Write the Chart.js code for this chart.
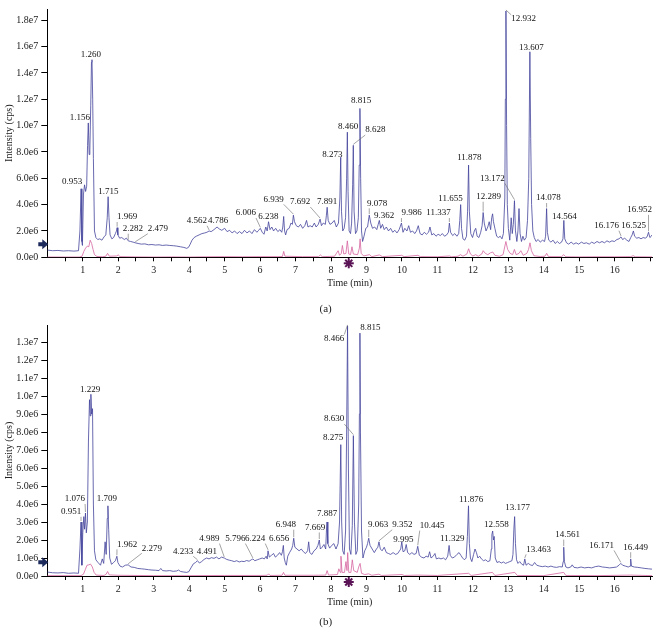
<!DOCTYPE html>
<html>
<head>
<meta charset="utf-8">
<script src="https://cdn.jsdelivr.net/npm/chart.js@4.4.1/dist/chart.umd.min.js"></script>
<style>
  body { margin: 0; background: #fff; width: 656px; height: 628px; overflow: hidden; position: relative; }
  canvas { position: absolute; left: 0; }
  #chartA { top: 0; }
  #chartB { top: 316px; }
</style>
</head>
<body>
<canvas id="chartA" width="656" height="316"></canvas>
<canvas id="chartB" width="656" height="312"></canvas>
<script>
// Chromatogram traces: [time (min), intensity (x1e6 cps)]
const blueA = [
  [0.00,0.55],[0.15,0.50],[0.30,0.52],[0.45,0.48],[0.60,0.50],[0.75,0.47],[0.88,0.50],[0.92,2.0],[0.953,5.2],[0.975,1.2],
  [0.99,0.9],[1.02,4.8],[1.05,5.5],[1.08,5.0],[1.11,5.4],[1.135,8.5],[1.156,10.2],[1.18,7.8],[1.20,8.2],[1.225,11.5],
  [1.245,14.8],[1.26,15.0],[1.28,12.0],[1.30,7.5],[1.33,2.0],[1.37,1.5],[1.42,1.35],[1.48,1.4],[1.54,1.3],[1.60,1.55],
  [1.65,1.7],[1.69,3.0],[1.715,4.6],[1.74,3.0],[1.77,1.7],[1.82,1.4],[1.87,1.5],[1.92,1.8],[1.95,2.0],[1.969,2.25],
  [1.99,1.7],[2.04,1.45],[2.10,1.5],[2.17,1.35],[2.23,1.45],[2.282,1.25],[2.35,1.2],[2.42,1.15],[2.479,1.1],[2.56,1.05],
  [2.65,1.0],[2.75,1.02],[2.85,0.95],[2.95,0.97],[3.05,0.93],[3.15,0.95],[3.25,0.90],[3.35,0.93],[3.45,0.90],[3.55,0.88],
  [3.65,0.85],[3.75,0.80],[3.85,0.75],[3.93,0.68],[3.98,0.75],[4.03,1.0],[4.08,1.3],[4.14,1.5],[4.20,1.6],[4.28,1.7],
  [4.36,1.8],[4.44,1.85],[4.50,1.9],[4.562,2.0],[4.62,1.95],[4.70,2.1],[4.786,2.3],[4.85,2.15],[4.92,2.05],[5.00,2.2],
  [5.07,1.95],[5.14,2.05],[5.21,1.85],[5.28,2.0],[5.35,1.8],[5.42,1.95],[5.49,1.8],[5.56,2.05],[5.63,1.85],[5.70,2.0],
  [5.77,1.8],[5.84,2.1],[5.91,1.9],[5.96,2.05],[6.006,2.2],[6.06,1.9],[6.11,1.75],[6.16,2.3],[6.20,2.0],[6.238,2.7],
  [6.28,2.1],[6.33,2.3],[6.38,2.0],[6.44,2.2],[6.50,1.95],[6.56,2.1],[6.61,1.9],[6.64,2.3],[6.665,3.1],[6.69,2.0],
  [6.72,1.7],[6.76,2.1],[6.82,2.2],[6.87,2.6],[6.91,2.5],[6.939,3.2],[6.97,2.7],[7.02,2.4],[7.08,2.3],[7.14,2.5],
  [7.20,2.2],[7.26,2.4],[7.31,2.8],[7.35,2.3],[7.41,2.4],[7.47,2.3],[7.53,2.6],[7.58,2.3],[7.64,2.5],[7.692,2.9],
  [7.73,2.4],[7.78,2.6],[7.84,2.5],[7.87,3.2],[7.891,3.8],[7.92,2.8],[7.97,2.5],[8.03,2.6],[8.09,2.8],[8.15,2.3],
  [8.21,2.6],[8.25,4.5],[8.273,7.6],[8.295,3.5],[8.33,2.0],[8.37,2.2],[8.41,3.0],[8.44,6.0],[8.460,9.5],[8.48,5.0],
  [8.51,2.0],[8.55,1.8],[8.58,2.6],[8.61,5.5],[8.628,8.5],[8.65,3.5],[8.69,1.8],[8.73,2.0],[8.77,3.0],[8.795,7.0],
  [8.815,11.3],[8.835,6.0],[8.86,2.0],[8.89,1.2],[8.93,1.6],[8.98,2.2],[9.03,2.3],[9.078,3.2],[9.12,2.6],[9.17,2.2],
  [9.23,2.3],[9.29,2.1],[9.33,2.5],[9.362,2.8],[9.40,2.2],[9.45,2.5],[9.50,2.1],[9.56,2.3],[9.62,2.0],[9.68,2.2],
  [9.74,1.9],[9.80,2.05],[9.86,1.85],[9.92,2.1],[9.986,2.6],[10.03,1.9],[10.08,2.2],[10.14,2.0],[10.19,2.4],[10.24,1.9],
  [10.30,2.0],[10.36,1.8],[10.41,2.0],[10.46,2.4],[10.51,1.8],[10.57,1.7],[10.63,1.9],[10.69,1.75],[10.75,1.9],[10.79,2.3],
  [10.84,1.7],[10.90,1.8],[10.96,1.6],[11.02,1.75],[11.08,1.65],[11.14,1.8],[11.20,1.6],[11.26,1.7],[11.31,1.9],[11.337,2.6],
  [11.37,1.9],[11.43,1.65],[11.49,1.8],[11.55,1.6],[11.60,1.8],[11.63,2.8],[11.655,4.0],[11.68,2.2],[11.72,1.4],[11.77,1.3],
  [11.82,1.6],[11.85,3.5],[11.878,7.0],[11.90,3.5],[11.94,1.8],[11.99,1.5],[12.04,2.0],[12.08,2.2],[12.12,1.6],[12.17,1.5],
  [12.22,1.9],[12.26,2.4],[12.289,3.4],[12.32,2.6],[12.37,2.0],[12.42,2.3],[12.46,2.7],[12.50,2.1],[12.53,3.0],[12.555,3.3],
  [12.58,2.7],[12.62,2.2],[12.67,1.6],[12.72,1.5],[12.77,1.6],[12.82,1.4],[12.86,1.8],[12.90,4.5],[12.915,12.0],[12.932,18.7],
  [12.95,10.0],[12.97,4.0],[13.00,2.2],[13.04,1.3],[13.08,3.0],[13.11,1.8],[13.14,2.5],[13.172,4.3],[13.20,2.0],[13.24,1.2],
  [13.27,2.0],[13.30,3.7],[13.33,1.8],[13.37,1.2],[13.41,1.6],[13.45,1.3],[13.50,1.5],[13.54,2.8],[13.575,6.0],[13.607,15.6],
  [13.63,9.0],[13.655,4.0],[13.69,2.0],[13.73,1.5],[13.78,1.2],[13.84,1.35],[13.90,1.15],[13.96,1.3],[14.02,1.2],[14.05,1.6],
  [14.078,3.7],[14.10,1.9],[14.14,1.3],[14.20,1.15],[14.26,1.3],[14.32,1.05],[14.38,1.2],[14.44,1.05],[14.50,1.15],[14.54,1.4],
  [14.564,2.8],[14.59,1.4],[14.64,1.1],[14.70,1.0],[14.77,1.15],[14.84,1.0],[14.91,1.1],[14.98,1.0],[15.06,1.15],[15.13,1.05],
  [15.20,1.1],[15.28,1.0],[15.35,1.15],[15.42,1.05],[15.50,1.2],[15.57,1.1],[15.64,1.2],[15.71,1.1],[15.78,1.25],[15.85,1.15],
  [15.92,1.25],[15.99,1.2],[16.06,1.35],[16.12,1.4],[16.176,1.55],[16.22,1.35],[16.28,1.45],[16.34,1.3],[16.40,1.2],[16.45,1.5],
  [16.49,1.7],[16.525,2.0],[16.56,1.6],[16.62,1.45],[16.68,1.5],[16.74,1.4],[16.80,1.5],[16.86,1.45],[16.91,1.55],[16.952,1.9],
  [16.99,1.5],[17.03,1.6],[17.05,1.7]
];

const pinkA = [
  [0.00,0.02],[0.90,0.02],[0.98,0.08],[1.03,0.45],[1.08,0.7],[1.13,0.85],[1.17,0.8],[1.21,1.3],[1.25,1.05],[1.29,0.6],
  [1.33,0.2],[1.40,0.06],[1.55,0.04],[1.65,0.08],[1.70,0.3],[1.75,0.08],[1.95,0.1],[2.00,0.18],[2.05,0.05],[2.5,0.03],
  [3.0,0.02],[3.5,0.03],[4.0,0.02],[4.5,0.04],[5.0,0.05],[5.5,0.04],[6.0,0.05],[6.5,0.05],[6.63,0.06],[6.665,0.45],
  [6.70,0.08],[7.2,0.05],[7.65,0.05],[7.70,0.18],[7.75,0.05],[8.10,0.08],[8.20,0.5],[8.24,0.15],[8.29,0.3],[8.32,0.9],
  [8.36,0.25],[8.42,0.3],[8.46,1.25],[8.50,0.25],[8.55,0.2],[8.59,0.8],[8.63,0.25],[8.75,0.2],[8.80,0.7],[8.82,1.4],
  [8.85,0.3],[8.92,0.1],[9.08,0.2],[9.15,0.05],[9.36,0.18],[9.45,0.05],[9.99,0.15],[10.06,0.05],[10.45,0.15],[10.52,0.05],
  [11.0,0.04],[11.34,0.1],[11.4,0.04],[11.58,0.08],[11.65,0.2],[11.72,0.08],[11.83,0.25],[11.88,0.65],[11.93,0.25],[12.0,0.1],
  [12.08,0.2],[12.15,0.08],[12.25,0.25],[12.29,0.5],[12.35,0.3],[12.42,0.2],[12.5,0.35],[12.56,0.4],[12.62,0.15],[12.75,0.08],
  [12.85,0.2],[12.93,1.2],[12.98,0.6],[13.05,0.3],[13.12,0.2],[13.17,0.6],[13.22,0.2],[13.3,0.3],[13.35,0.5],[13.42,0.15],
  [13.52,0.3],[13.57,0.6],[13.61,1.1],[13.65,0.5],[13.72,0.12],[13.9,0.06],[14.03,0.08],[14.08,0.3],[14.13,0.05],[14.5,0.05],
  [14.56,0.2],[14.62,0.04],[15.0,0.03],[15.5,0.04],[16.0,0.04],[16.45,0.05],[16.52,0.12],[16.58,0.04],[17.05,0.03]
];

const blueB = [
  [0.00,0.22],[0.15,0.18],[0.30,0.17],[0.45,0.19],[0.60,0.15],[0.75,0.17],[0.88,0.15],[0.92,1.5],[0.951,3.0],[0.975,0.6],
  [1.00,2.4],[1.03,3.3],[1.05,2.6],[1.076,3.5],[1.10,2.4],[1.13,3.0],[1.16,7.5],[1.19,9.8],[1.21,8.9],[1.229,10.1],
  [1.25,9.0],[1.275,9.3],[1.30,4.0],[1.33,1.4],[1.37,0.9],[1.43,0.75],[1.50,0.6],[1.55,0.95],[1.59,0.7],[1.63,1.9],
  [1.66,1.2],[1.69,3.2],[1.709,3.9],[1.73,2.6],[1.76,1.0],[1.81,0.65],[1.87,0.75],[1.92,0.85],[1.962,1.1],[1.99,0.75],
  [2.05,0.55],[2.12,0.5],[2.20,0.6],[2.279,0.62],[2.36,0.5],[2.45,0.48],[2.55,0.42],[2.65,0.4],[2.75,0.38],[2.85,0.35],
  [2.95,0.33],[3.05,0.32],[3.15,0.3],[3.20,0.42],[3.25,0.3],[3.35,0.28],[3.45,0.3],[3.55,0.26],[3.65,0.28],[3.70,0.33],
  [3.76,0.25],[3.85,0.22],[3.93,0.2],[3.99,0.24],[4.05,0.45],[4.12,0.68],[4.18,0.75],[4.233,0.85],[4.29,0.72],[4.35,0.8],
  [4.42,0.92],[4.491,1.0],[4.56,0.95],[4.63,1.02],[4.70,0.98],[4.77,1.05],[4.84,0.95],[4.91,1.05],[4.989,1.0],[5.06,0.92],
  [5.13,0.88],[5.20,0.85],[5.27,0.8],[5.34,0.85],[5.41,0.78],[5.48,0.82],[5.55,0.8],[5.62,0.86],[5.69,0.82],[5.75,0.9],
  [5.796,0.95],[5.85,0.85],[5.92,0.9],[5.99,0.95],[6.06,1.0],[6.12,0.95],[6.17,1.1],[6.20,0.95],[6.224,1.4],[6.26,1.05],
  [6.32,1.15],[6.38,1.25],[6.43,1.05],[6.49,1.15],[6.55,1.3],[6.60,1.15],[6.63,1.35],[6.656,1.7],[6.68,1.0],[6.71,0.75],
  [6.74,0.6],[6.78,1.1],[6.83,1.3],[6.89,1.5],[6.92,1.7],[6.948,2.1],[6.98,1.6],[7.04,1.5],[7.10,1.4],[7.16,1.5],
  [7.22,1.35],[7.28,1.25],[7.34,1.4],[7.37,1.9],[7.40,1.3],[7.46,1.2],[7.52,1.4],[7.58,1.5],[7.63,1.7],[7.669,2.0],
  [7.70,1.5],[7.75,1.6],[7.80,1.75],[7.85,1.5],[7.87,2.5],[7.887,3.0],[7.91,1.8],[7.96,1.55],[8.02,1.7],[8.08,1.8],
  [8.14,1.5],[8.20,1.8],[8.24,3.0],[8.275,7.3],[8.30,3.0],[8.33,1.4],[8.37,1.2],[8.41,2.5],[8.44,8.0],[8.466,13.9],
  [8.49,6.0],[8.52,1.5],[8.56,1.2],[8.60,2.8],[8.63,7.8],[8.66,3.0],[8.70,1.2],[8.74,1.4],[8.78,4.0],[8.80,9.0],
  [8.815,13.5],[8.83,8.0],[8.86,2.5],[8.90,1.0],[8.95,1.4],[9.00,1.6],[9.03,1.8],[9.063,2.1],[9.10,1.7],[9.16,1.5],
  [9.22,1.3],[9.28,1.5],[9.32,1.6],[9.352,1.9],[9.39,1.5],[9.44,1.4],[9.50,1.6],[9.56,1.3],[9.62,1.25],[9.68,1.2],
  [9.75,1.3],[9.82,1.2],[9.88,1.25],[9.93,1.4],[9.965,1.5],[9.995,1.9],[10.03,1.35],[10.08,1.4],[10.12,1.75],[10.16,1.3],
  [10.22,1.2],[10.28,1.3],[10.34,1.2],[10.40,1.25],[10.445,1.65],[10.49,1.15],[10.55,1.05],[10.62,1.0],[10.68,1.1],[10.74,1.05],
  [10.78,1.35],[10.82,1.0],[10.88,1.1],[10.93,1.25],[10.97,0.95],[11.04,1.0],[11.10,0.95],[11.17,1.0],[11.23,0.9],[11.29,1.1],
  [11.329,1.7],[11.36,1.15],[11.42,1.0],[11.48,1.05],[11.55,1.2],[11.61,1.3],[11.66,1.15],[11.71,1.0],[11.76,0.9],[11.81,1.0],
  [11.845,2.2],[11.876,3.9],[11.90,1.8],[11.93,1.0],[11.97,0.8],[12.02,1.2],[12.06,1.5],[12.10,1.3],[12.14,1.0],[12.19,1.1],
  [12.24,0.95],[12.30,0.85],[12.36,0.9],[12.42,0.8],[12.48,0.85],[12.52,1.5],[12.535,2.3],[12.558,2.5],[12.58,2.0],[12.60,2.2],
  [12.63,1.0],[12.68,0.75],[12.74,0.8],[12.80,0.72],[12.86,0.78],[12.92,0.7],[12.98,0.75],[13.04,0.8],[13.10,0.85],[13.13,1.2],
  [13.155,2.6],[13.177,3.3],[13.20,1.8],[13.23,0.9],[13.27,0.7],[13.32,0.8],[13.38,0.65],[13.43,0.6],[13.463,0.95],[13.50,0.6],
  [13.56,0.7],[13.62,0.62],[13.68,0.58],[13.74,0.75],[13.80,0.6],[13.88,0.55],[13.96,0.52],[14.04,0.55],[14.12,0.5],[14.20,0.55],
  [14.28,0.5],[14.36,0.48],[14.44,0.52],[14.52,0.5],[14.545,0.8],[14.561,1.6],[14.58,0.8],[14.62,0.5],[14.68,0.45],[14.76,0.5],
  [14.80,0.62],[14.85,0.48],[14.95,0.45],[15.05,0.5],[15.15,0.45],[15.25,0.48],[15.35,0.45],[15.45,0.52],[15.55,0.55],[15.65,0.5],
  [15.75,0.48],[15.85,0.45],[15.95,0.47],[16.05,0.5],[16.12,0.6],[16.171,0.7],[16.22,0.6],[16.30,0.55],[16.38,0.5],[16.43,0.55],
  [16.449,0.95],[16.47,0.55],[16.55,0.5],[16.65,0.48],[16.75,0.45],[16.85,0.42],[16.95,0.4],[17.05,0.38]
];

const pinkB = [
  [0.00,0.02],[0.95,0.02],[1.02,0.1],[1.07,0.35],[1.12,0.6],[1.17,0.62],[1.22,0.66],[1.27,0.5],[1.32,0.2],[1.38,0.05],
  [1.60,0.03],[1.66,0.1],[1.70,0.25],[1.75,0.06],[2.0,0.04],[3.0,0.02],[4.0,0.02],[5.0,0.03],[6.0,0.03],[6.2,0.04],
  [6.24,0.12],[6.28,0.03],[6.62,0.04],[6.66,0.2],[6.70,0.04],[7.5,0.04],[7.85,0.05],[7.89,0.3],[7.93,0.05],[8.18,0.08],
  [8.22,0.4],[8.26,0.2],[8.28,1.1],[8.31,0.2],[8.38,0.2],[8.42,0.8],[8.45,0.3],[8.47,1.3],[8.50,0.2],[8.56,0.2],
  [8.60,0.9],[8.64,0.3],[8.74,0.2],[8.78,0.5],[8.82,0.7],[8.86,0.15],[8.95,0.08],[9.06,0.12],[9.15,0.04],[9.35,0.1],
  [9.42,0.03],[10.0,0.08],[10.07,0.03],[10.45,0.05],[11.0,0.03],[11.88,0.15],[11.95,0.03],[12.55,0.2],[12.62,0.03],[13.18,0.2],
  [13.25,0.03],[14.0,0.02],[14.56,0.2],[14.62,0.03],[15.5,0.02],[16.45,0.05],[17.05,0.02]
];

// Peak labels (retention times) and where their text sits (time, intensity)
const labelsA = ['0.953','1.156','1.260','1.715','1.969','2.282','2.479','4.562','4.786','6.006','6.238','6.939','7.692','7.891','8.273','8.460','8.628','8.815','9.078','9.362','9.986','11.337','11.655','11.878','12.289','12.932','13.172','13.607','14.078','14.564','16.176','16.525','16.952'];
const labelTimeA = [0.70,0.92,1.23,1.72,2.25,2.41,3.12,4.22,4.82,5.60,6.23,6.38,7.13,7.89,8.04,8.48,9.25,8.85,9.30,9.50,10.27,11.03,11.37,11.90,12.44,13.43,12.55,13.65,14.13,14.58,15.77,16.53,16.70];
const labelLevelA = [5.73,10.6,15.4,4.99,3.06,2.17,2.17,2.77,2.77,3.36,3.06,4.4,4.2,4.2,7.8,9.9,9.66,11.9,4.1,3.2,3.36,3.36,4.45,7.6,4.6,18.1,6.0,15.9,4.5,3.1,2.4,2.4,3.6];

const labelsB = ['0.951','1.076','1.229','1.709','1.962','2.279','4.233','4.491','4.989','5.796','6.224','6.656','6.948','7.669','7.887','8.275','8.630','8.466','8.815','9.063','9.352','9.995','10.445','11.329','11.876','12.558','13.177','13.463','14.561','16.171','16.449'];
const labelTimeB = [0.67,0.78,1.21,1.68,2.25,2.95,3.83,4.50,4.57,5.30,5.86,6.54,6.73,7.55,7.89,8.06,8.09,8.09,9.11,9.33,10.01,10.04,10.85,11.42,11.95,12.66,13.26,13.85,14.67,15.63,16.59];
const labelLevelB = [3.57,4.28,10.37,4.28,1.76,1.54,1.37,1.37,2.08,2.08,2.08,2.08,2.85,2.7,3.45,7.7,8.72,13.2,13.8,2.85,2.85,2.03,2.8,2.08,4.22,2.85,3.8,1.48,2.3,1.7,1.6];

// Axis ticks
const xTicks = [0.5,1,1.5,2,2.5,3,3.5,4,4.5,5,5.5,6,6.5,7,7.5,8,8.5,9,9.5,10,10.5,11,11.5,12,12.5,13,13.5,14,14.5,15,15.5,16,16.5,17];
const xTickLabels = ['1','2','3','4','5','6','7','8','9','10','11','12','13','14','15','16'];
const yTicksA = [0,1,2,3,4,5,6,7,8,9,10,11,12,13,14,15,16,17,18];
const yTicksB = [0,1,2,3,4,5,6,7,8,9,10,11,12,13];

// Markers
const arrowLevelA = 1.0;
const arrowLevelB = 0.77;
const markerTime = 8.5;

const FONT = '"Liberation Serif", "DejaVu Serif", serif';
Chart.defaults.font.family = FONT;
Chart.defaults.font.size = 10;
Chart.defaults.color = '#222';

function formatIntensity(v) {
    if (v === 0) return '0.0e0';
    if (v < 10) return v.toFixed(1) + 'e6';
    return (v / 10).toFixed(1) + 'e7';
}

function nearestPoint(series, t) {
    let best = series[0];
    series.forEach(p => { if (Math.abs(p[0] - t) < Math.abs(best[0] - t)) best = p; });
    return best;
}

// --- Overlay: peak labels, axis titles, markers ---
function overlay(cfg) {
    return {
        id: 'overlay',
        afterDraw(chart) {
            const { ctx, chartArea: area, scales: { x, y } } = chart;
            ctx.save();

            ctx.font = '9px ' + FONT;
            ctx.textAlign = 'center';
            ctx.textBaseline = 'middle';
            cfg.labels.forEach((txt, i) => {
                const peak = nearestPoint(cfg.series, Number(txt));
                const px = x.getPixelForValue(peak[0]);
                const py = y.getPixelForValue(peak[1]) - 1;
                const lx = x.getPixelForValue(cfg.labelTimes[i]);
                const ly = y.getPixelForValue(cfg.labelLevels[i]);
                const w = ctx.measureText(txt).width;
                const bx = Math.min(Math.max(px, lx - w / 2), lx + w / 2);
                const by = Math.min(Math.max(py, ly - 4), ly + 5);
                if (Math.hypot(px - bx, py - by) > 3) {
                    ctx.strokeStyle = '#666';
                    ctx.lineWidth = 0.6;
                    ctx.beginPath();
                    ctx.moveTo(bx, by);
                    ctx.lineTo(px, py);
                    ctx.stroke();
                }
                ctx.fillStyle = '#111';
                ctx.fillText(txt, lx, ly);
            });

            // axis titles
            ctx.fillStyle = '#222';
            ctx.font = '10px ' + FONT;
            const cx = (area.left + area.right) / 2;
            ctx.fillText('Time (min)', cx, area.bottom + 26);
            ctx.font = '11px ' + FONT;
            ctx.fillText(cfg.tag, cx - 24, area.bottom + cfg.tagOffset);
            ctx.save();
            ctx.translate(9, (area.top + area.bottom) / 2);
            ctx.rotate(-Math.PI / 2);
            ctx.font = '10px ' + FONT;
            ctx.fillText('Intensity (cps)', 0, 0);
            ctx.restore();

            // arrow on the y axis
            const ay = y.getPixelForValue(cfg.arrowLevel);
            const ax = area.left;
            ctx.fillStyle = '#1c2a5c';
            ctx.beginPath();
            ctx.moveTo(ax - 9, ay - 2);
            ctx.lineTo(ax - 5, ay - 2);
            ctx.lineTo(ax - 5, ay - 5);
            ctx.lineTo(ax + 1, ay);
            ctx.lineTo(ax - 5, ay + 5);
            ctx.lineTo(ax - 5, ay + 2);
            ctx.lineTo(ax - 9, ay + 2);
            ctx.closePath();
            ctx.fill();

            // asterisk under the x axis
            const sx = x.getPixelForValue(markerTime);
            const sy = area.bottom + 6;
            ctx.strokeStyle = '#5a1456';
            ctx.lineWidth = 2;
            for (let k = 0; k < 4; k++) {
                const a = k * Math.PI / 4;
                ctx.beginPath();
                ctx.moveTo(sx - 5 * Math.cos(a), sy - 5 * Math.sin(a));
                ctx.lineTo(sx + 5 * Math.cos(a), sy + 5 * Math.sin(a));
                ctx.stroke();
            }
            ctx.fillStyle = '#5a1456';
            ctx.beginPath();
            ctx.arc(sx, sy, 2.5, 0, Math.PI * 2);
            ctx.fill();

            ctx.restore();
        }
    };
}

function makeChart(id, blue, pink, yMax, yTicks, padTop, padBottom, cfg) {
    return new Chart(document.getElementById(id), {
        type: 'line',
        data: {
            datasets: [
                {
                    data: pink.map(p => ({ x: p[0], y: p[1] })),
                    borderColor: 'rgb(214,100,160)',
                    borderWidth: 0.8,
                    pointRadius: 0,
                    tension: 0
                },
                {
                    data: blue.map(p => ({ x: p[0], y: p[1] })),
                    borderColor: 'rgb(66,66,156)',
                    borderWidth: 0.8,
                    pointRadius: 0,
                    tension: 0
                }
            ]
        },
        options: {
            responsive: false,
            animation: false,
            events: [],
            layout: { padding: { top: padTop, right: 4, left: 0, bottom: padBottom } },
            plugins: { legend: { display: false }, tooltip: { enabled: false } },
            scales: {
                x: {
                    type: 'linear',
                    min: 0,
                    max: 17.05,
                    afterBuildTicks: s => { s.ticks = xTicks.map(v => ({ value: v })); },
                    afterFit: s => { s.height = 26; },
                    ticks: {
                        autoSkip: false,
                        maxRotation: 0,
                        padding: 3,
                        color: '#222',
                        callback: v => xTickLabels.includes(String(v)) ? String(v) : ''
                    },
                    grid: { drawOnChartArea: false, tickLength: 4, tickColor: '#000' },
                    border: { color: '#000', width: 1 }
                },
                y: {
                    min: 0,
                    max: yMax,
                    afterBuildTicks: s => { s.ticks = yTicks.map(v => ({ value: v })); },
                    afterFit: s => { s.width = 47.3; },
                    ticks: { padding: 3, color: '#222', callback: formatIntensity },
                    grid: { drawOnChartArea: false, tickLength: 6, tickColor: '#000' },
                    border: { color: '#000', width: 1 }
                }
            }
        },
        plugins: [overlay(cfg)]
    });
}

makeChart('chartA', blueA, pinkA, 18.85, yTicksA, 3, 32.7, {
    labels: labelsA, labelTimes: labelTimeA, labelLevels: labelLevelA,
    series: blueA, tag: '(a)', tagOffset: 52, arrowLevel: arrowLevelA
});

makeChart('chartB', blueB, pinkB, 13.95, yTicksB, 6, 26, {
    labels: labelsB, labelTimes: labelTimeB, labelLevels: labelLevelB,
    series: blueB, tag: '(b)', tagOffset: 46, arrowLevel: arrowLevelB
});
</script>
</body>
</html>
